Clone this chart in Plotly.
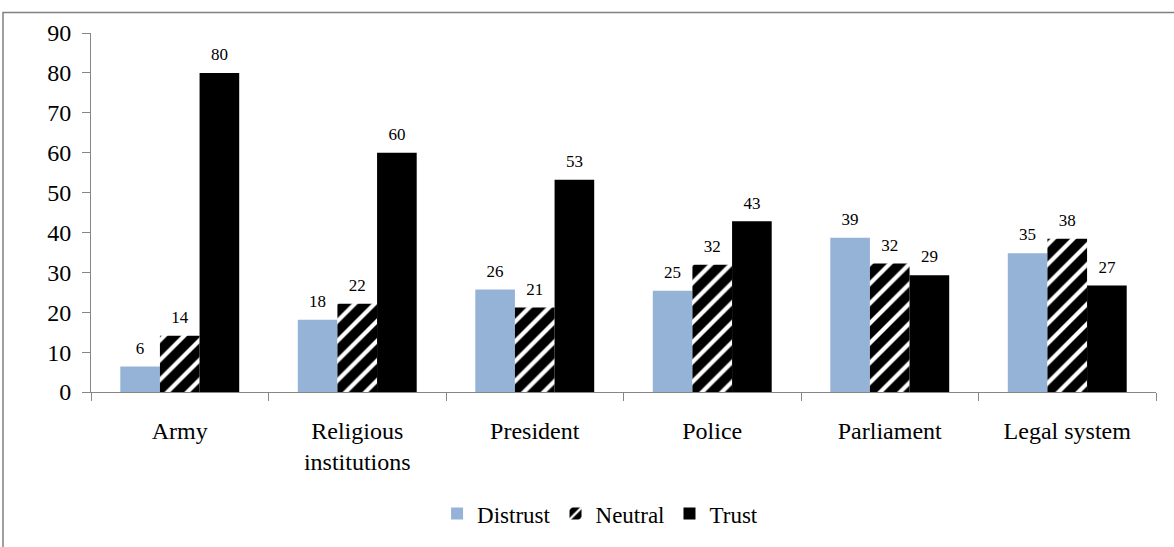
import plotly.graph_objects as go

categories = ["Army", "Religious<br>institutions", "President", "Police", "Parliament", "Legal system"]
distrust = [6.4, 18.1, 25.7, 25.4, 38.7, 34.8]
neutral = [14.1, 22.1, 21.2, 31.9, 32.2, 38.4]
trust = [80.0, 60.0, 53.2, 42.8, 29.3, 26.7]
y_ticks = [0, 10, 20, 30, 40, 50, 60, 70, 80, 90]

FONT = "Liberation Serif, Times New Roman, DejaVu Serif, serif"

series = [
    ("Distrust", distrust, dict(color="#95B3D7", line=dict(width=0))),
    ("Neutral", neutral, dict(color="black", line=dict(width=0),
                              pattern=dict(shape="/", bgcolor="black", fgcolor="white",
                                           size=14, solidity=0.3, fillmode="replace"))),
    ("Trust", trust, dict(color="black", line=dict(width=0))),
]

fig = go.Figure()
for name, vals, marker in series:
    fig.add_trace(go.Bar(name=name, x=categories, y=vals, marker=marker))
for name, vals, marker in series:
    fig.add_trace(go.Scatter(x=categories, y=vals, mode="markers+text", showlegend=False,
                             text=[f"{v:.0f}" for v in vals], textposition="top center",
                             marker=dict(size=12, opacity=0), cliponaxis=False, hoverinfo="skip",
                             textfont=dict(family=FONT, size=17, color="black")))

PT, PB = 33, 148
H = 547 - PT - PB

fig.update_layout(
    width=1174, height=547,
    margin=dict(l=91, r=18, t=PT, b=PB),
    paper_bgcolor="white", plot_bgcolor="white",
    barmode="group", bargap=0.33, bargroupgap=0,
    scattermode="group", scattergap=0.33,
    font=dict(family=FONT, color="black"),
    showlegend=True,
    legend=dict(orientation="h", x=0.478, xanchor="center", y=(395 - 519) / H, yanchor="middle",
                font=dict(family=FONT, size=23), itemwidth=30, tracegroupgap=0),
    xaxis=dict(type="category", showline=True, linecolor="#868686", linewidth=1,
               ticks="outside", tickson="boundaries", ticklen=8, tickcolor="#868686",
               tickfont=dict(family=FONT, size=24), showgrid=False, ticklabelstandoff=17),
    yaxis=dict(range=[0, 90], tickvals=y_ticks, showline=True, linecolor="#868686", linewidth=1,
               ticks="outside", ticklen=8, tickcolor="#868686", showgrid=False, zeroline=False,
               tickfont=dict(family=FONT, size=24), ticklabelstandoff=6),
    shapes=[dict(type="rect", xref="paper", yref="paper",
                 x0=(3 - 91) / 1065, x1=(1180 - 91) / 1065,
                 y0=(395 - 560) / H, y1=(395 - 8) / H,
                 line=dict(color="#808080", width=1.5), fillcolor="rgba(0,0,0,0)", layer="below")],
)

fig.write_html("out.html", config={"displayModeBar": False},
               post_script="document.body.style.margin='0px';")
